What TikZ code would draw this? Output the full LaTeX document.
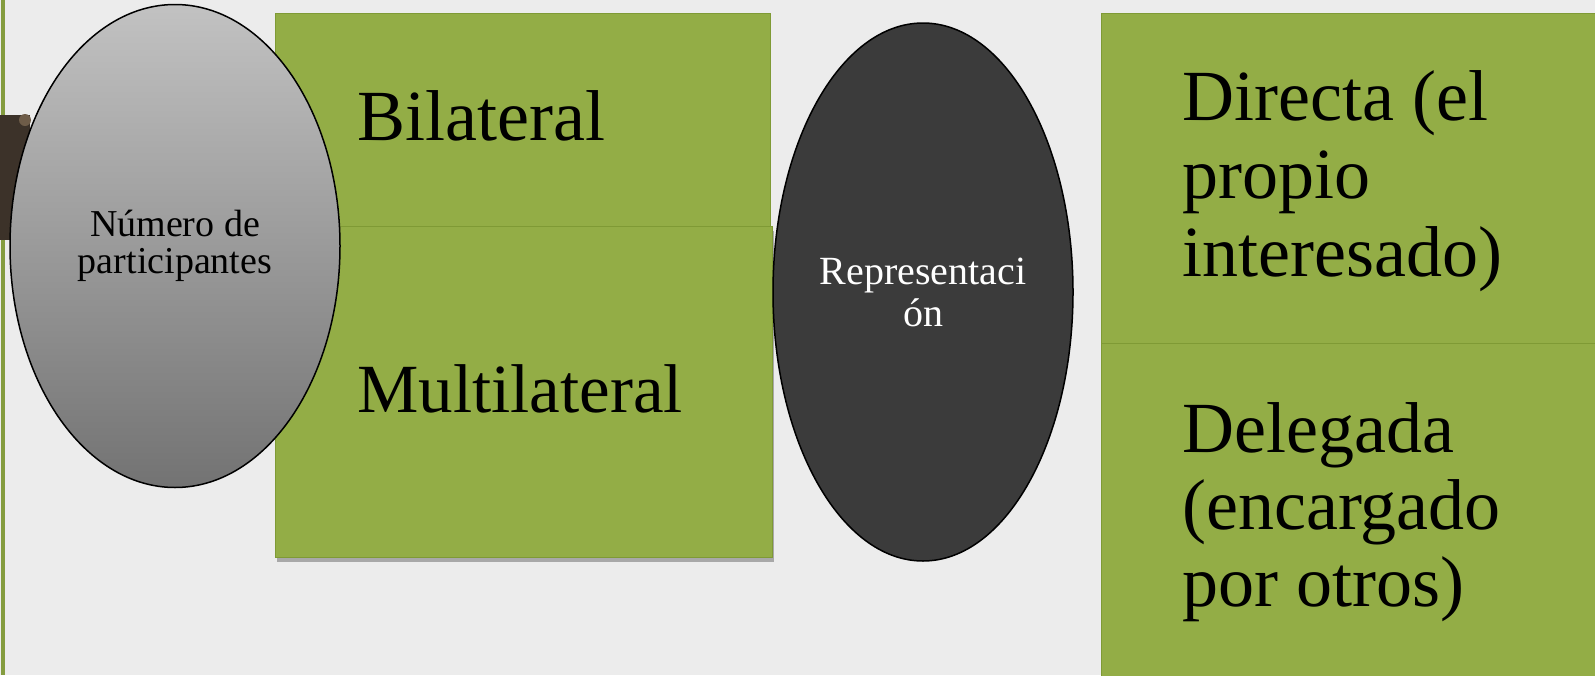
\documentclass[tikz,border=0pt]{standalone}
\usepackage{fontspec}
\setmainfont{Liberation Serif}
\usetikzlibrary{shapes.geometric,shadows}
\definecolor{bgc}{HTML}{ECECEC}
\definecolor{leaf}{HTML}{93AD46}
\definecolor{leafdark}{HTML}{7F9A35}
\definecolor{bark}{HTML}{3C3229}
\definecolor{knob}{HTML}{6E5C48}
\definecolor{coal}{HTML}{3B3B3B}
\tikzset{
  greenbox/.style={fill=leaf, draw=leafdark, line width=1pt},
  shadowed/.style={drop shadow={shadow xshift=2pt, shadow yshift=-5pt, opacity=0.5, fill=black!60}},
  bigtxt/.style={font=\fontsize{72}{78}\selectfont, inner sep=0pt, anchor=base west, text=black},
  ovalgray/.style={ellipse, draw=black, line width=1.5pt, top color=black!24, bottom color=black!55,
     minimum width=330pt, minimum height=483pt, inner sep=0pt, align=center,
     font=\fontsize{38}{37}\selectfont},
  ovaldark/.style={ellipse, draw=black, line width=1.5pt, fill=coal,
     minimum width=300pt, minimum height=538pt, inner sep=0pt, align=center, text=white,
     font=\fontsize{40}{42}\selectfont}
}
\begin{document}
\begin{tikzpicture}[x=1pt,y=-1pt]
\useasboundingbox (0,0) rectangle (1595,675);
\fill[bgc] (0,0) rectangle (1595,675);
% left accent line
\fill[leaf!90!black] (1,0) rectangle (5,675);
% brown tab
\fill[bark] (0,115) rectangle (30,240);
\fill[knob] (25,120) circle (6);
% middle green boxes
\path[greenbox, shadowed] (275,226) rectangle (772,557);
\path[greenbox] (275,13) rectangle (770,226);
\node[bigtxt] (bil) at (357,140) {Bilateral};
\node[bigtxt, font=\fontsize{69}{78}\selectfont] (mul) at (357,412) {Multilateral};
% right green boxes
\path[greenbox, shadowed] (1101,343) rectangle (1600,680);
\path[greenbox] (1101,13) rectangle (1600,343);
\node[bigtxt] (dirA) at (1182,120) {Directa (el};
\node[bigtxt] (dirB) at (1182,198) {propio};
\node[bigtxt] (dirC) at (1182,276) {interesado)};
\node[bigtxt] (delA) at (1182,452) {Delegada};
\node[bigtxt] (delB) at (1182,529) {(encargado};
\node[bigtxt] (delC) at (1182,606) {por otros)};
% ellipses
\node[ovalgray] (num) at (175,246) {Número de\\participantes};
\node[ovaldark] (rep) at (923,292) {Representaci\\ón};
\end{tikzpicture}
\end{document}
